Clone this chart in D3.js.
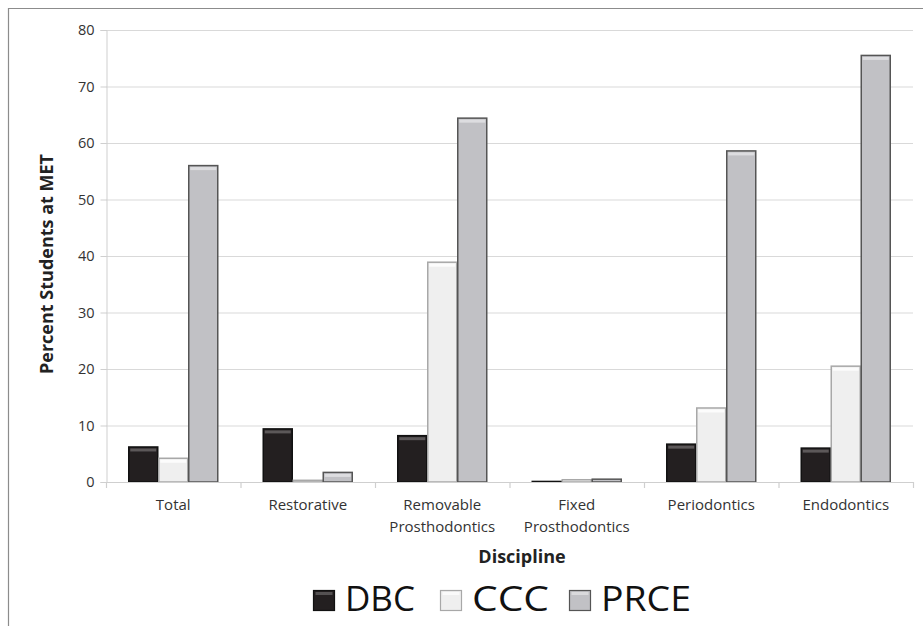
<!DOCTYPE html>
<html><head><meta charset="utf-8">
<script src="https://cdn.jsdelivr.net/npm/d3@7"></script>
<style>body{margin:0;background:#fff}svg{display:block}text{font-family:"Open Sans",sans-serif}</style>
</head><body>
<svg id="c" width="923" height="626"></svg>
<script>
const categories = [["Total"],["Restorative"],["Removable","Prosthodontics"],["Fixed","Prosthodontics"],["Periodontics"],["Endodontics"]];
const seriesNames = ["DBC","CCC","PRCE"];
const DBC  = [6.2, 9.4, 8.2, 0.1, 6.7, 6.0];
const CCC  = [4.2, 0.3, 38.9, 0.4, 13.1, 20.5];
const PRCE = [56.0, 1.7, 64.4, 0.5, 58.6, 75.5];
const yTicks = [0,10,20,30,40,50,60,70,80];

const series = [DBC, CCC, PRCE];
const fills = ["#231f20","#efefef","#c1c1c5"];
const strokes = ["#111","#a8a8a8","#555"];
const tops = ["#6a6668","#ffffff","#e4e4e6"];

const svg = d3.select("#c");
const L=106, R=913, T=30, B=482;

// frame
svg.append("path").attr("d","M8.5,626 V8.5 H923").attr("fill","none").attr("stroke","#8c8c8c").attr("stroke-width",1.2);

const x = d3.scaleBand().domain(d3.range(categories.length)).range([L,R]).paddingInner(0).paddingOuter(0);
const xs = d3.scaleBand().domain(d3.range(3)).range([0,90]);
const y = d3.scaleLinear().domain([0,80]).range([B,T]);

// gridlines
svg.append("g").selectAll("line").data(yTicks.filter(d=>d>0)).join("line")
  .attr("x1",L).attr("x2",R).attr("y1",d=>y(d)+0.5).attr("y2",d=>y(d)+0.5)
  .attr("stroke","#d9d9d9").attr("stroke-width",1.2);

// y axis
const ya = svg.append("g").attr("transform",`translate(${L+0.5},0)`)
  .call(d3.axisLeft(y).tickValues(yTicks).tickSize(6).tickPadding(6));
ya.select(".domain").attr("stroke","#cfcfcf");
ya.selectAll(".tick line").attr("stroke","#cfcfcf");
ya.selectAll("text").attr("font-size",14.5).attr("fill","#333");

// bars
const gap = (x.bandwidth()-90)/2;
series.forEach((s,i)=>{
  const g = svg.append("g");
  g.selectAll("rect.b").data(s).join("rect").attr("class","b")
    .attr("x",(d,j)=>x(j)+gap+xs(i)+0.5).attr("width",xs.bandwidth()-1)
    .attr("y",d=>y(d)).attr("height",d=>Math.max(0.5,B-y(d)))
    .attr("fill",fills[i]).attr("stroke",strokes[i]).attr("stroke-width",1.5);
  g.selectAll("rect.t").data(s.map((d,j)=>({d,j})).filter(o=>o.d>1.5)).join("rect").attr("class","t")
    .attr("x",o=>x(o.j)+gap+xs(i)+2).attr("width",xs.bandwidth()-4)
    .attr("y",o=>y(o.d)+1.5).attr("height",3)
    .attr("fill",tops[i]).attr("opacity",0.8);
});

// x axis
svg.append("line").attr("x1",L).attr("x2",R).attr("y1",B+0.5).attr("y2",B+0.5).attr("stroke","#cfcfcf").attr("stroke-width",1.2);
svg.append("g").selectAll("line").data(d3.range(categories.length+1)).join("line")
  .attr("x1",d=>d<categories.length?x(d)+0.5:R+0.5).attr("x2",d=>d<categories.length?x(d)+0.5:R+0.5)
  .attr("y1",B).attr("y2",B+6).attr("stroke","#cfcfcf").attr("stroke-width",1.2);

const cl = svg.append("g").selectAll("text").data(categories).join("text")
  .attr("x",(d,j)=>x(j)+x.bandwidth()/2).attr("y",510)
  .attr("text-anchor","middle").attr("font-size",15).attr("fill","#333");
cl.selectAll("tspan").data(d=>d).join("tspan")
  .attr("x",function(){return this.parentNode.getAttribute("x");})
  .attr("dy",(d,k)=>k===0?0:21.5).text(d=>d);

// axis titles
svg.append("text").attr("transform","translate(53,264) rotate(-90)").attr("text-anchor","middle")
  .attr("font-size",18).attr("font-weight","bold").attr("fill","#222").text("Percent Students at MET");
svg.append("text").attr("x",522).attr("y",563).attr("text-anchor","middle")
  .attr("font-size",18).attr("font-weight","bold").attr("fill","#222").text("Discipline");

// legend
const lg = svg.append("g");
const lx = [313, 440, 569];
seriesNames.forEach((n,i)=>{
  lg.append("rect").attr("x",lx[i]+0.5).attr("y",590.5).attr("width",21).attr("height",20)
    .attr("fill",fills[i]).attr("stroke",strokes[i]).attr("stroke-width",1.2);
  lg.append("rect").attr("x",lx[i]+2.5).attr("y",592).attr("width",17).attr("height",3).attr("fill",tops[i]).attr("opacity",0.7);
  lg.append("text").attr("x",lx[i]+32).attr("y",611).attr("font-size",34).attr("fill","#111")
    .attr("textLength", [70,77,90][i]).attr("lengthAdjust","spacingAndGlyphs").text(n);
});
</script>
</body></html>
